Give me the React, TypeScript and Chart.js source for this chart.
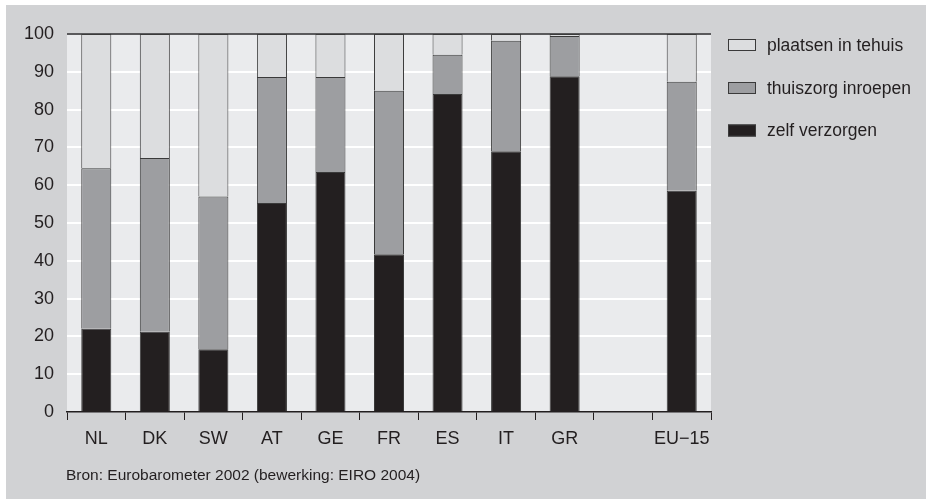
import { useEffect, useRef } from 'react';
import { Chart, registerables } from 'chart.js';

Chart.register(...registerables);

const categories = ['NL', 'DK', 'SW', 'AT', 'GE', 'FR', 'ES', 'IT', 'GR', '', 'EU\u221215'];
const zelfVerzorgen = [22.0, 21.2, 16.6, 55.3, 63.5, 41.7, 84.1, 69.0, 88.8, null, 58.5];
const thuiszorgInroepen = [42.5, 46.0, 40.4, 33.3, 25.1, 43.3, 10.4, 29.2, 10.7, null, 28.9];
const plaatsenInTehuis = [35.5, 32.8, 43.0, 11.4, 11.4, 15.0, 5.5, 1.8, 0.5, null, 12.6];
const yTicks = [0, 10, 20, 30, 40, 50, 60, 70, 80, 90, 100];
const sourceText = 'Bron: Eurobarometer 2002 (bewerking: EIRO 2004)';

const FONT = "'Liberation Sans', Arial, sans-serif";
const TEXT = '#231f20';
const C_BLACK = '#231f20';
const C_GRAY = '#9d9ea1';
const C_LIGHT = '#dcdddf';
const C_BORDER = '#3a3a3a';

const decorPlugin = {
  id: 'decor',
  beforeDraw(chart: any) {
    const { ctx, chartArea, width, height } = chart;
    ctx.save();
    ctx.fillStyle = '#ffffff';
    ctx.fillRect(0, 0, width, height);
    ctx.fillStyle = '#d1d2d4';
    ctx.fillRect(6, 5, width - 6, height - 5);
    ctx.fillStyle = '#eaebed';
    ctx.fillRect(chartArea.left, chartArea.top, chartArea.right - chartArea.left, chartArea.bottom - chartArea.top);
    ctx.restore();
  },
  afterDraw(chart: any) {
    const { ctx } = chart;
    ctx.save();
    const ds = chart.data.datasets.slice().reverse();
    const rowY = [45, 88, 130.5];
    ds.forEach((d: any, i: number) => {
      const y = rowY[i];
      ctx.fillStyle = d.backgroundColor;
      ctx.fillRect(728, y - 6, 28, 12);
      ctx.strokeStyle = C_BORDER;
      ctx.lineWidth = 1;
      ctx.strokeRect(728.5, y - 5.5, 27, 11);
      ctx.fillStyle = TEXT;
      ctx.font = `17.5px ${FONT}`;
      ctx.textAlign = 'left';
      ctx.textBaseline = 'middle';
      ctx.fillText(d.label, 767, y + 1);
    });
    ctx.font = `15.5px ${FONT}`;
    ctx.fillStyle = TEXT;
    ctx.textAlign = 'left';
    ctx.textBaseline = 'middle';
    ctx.fillText(sourceText, 66, 476);
    ctx.restore();
  },
};

export default function App() {
  const ref = useRef<HTMLCanvasElement>(null);
  useEffect(() => {
    document.body.style.margin = '0';
    const chart = new Chart(ref.current as HTMLCanvasElement, {
      type: 'bar',
      data: {
        labels: categories,
        datasets: [
          { label: 'zelf verzorgen', data: zelfVerzorgen, backgroundColor: C_BLACK, borderColor: C_BORDER, borderWidth: 1 },
          { label: 'thuiszorg inroepen', data: thuiszorgInroepen, backgroundColor: C_GRAY, borderColor: C_BORDER, borderWidth: 1 },
          { label: 'plaatsen in tehuis', data: plaatsenInTehuis, backgroundColor: C_LIGHT, borderColor: C_BORDER, borderWidth: 1 },
        ] as any,
      },
      options: {
        responsive: false,
        animation: false,
        devicePixelRatio: 1,
        layout: { padding: { left: 0, top: 34, right: 215, bottom: 0 } },
        datasets: { bar: { categoryPercentage: 1, barPercentage: 0.513 } },
        plugins: { legend: { display: false }, tooltip: { enabled: false } },
        scales: {
          x: {
            stacked: true,
            grid: { drawOnChartArea: false, drawTicks: true, tickLength: 8, color: TEXT, lineWidth: 1, offset: true },
            border: { display: true, color: TEXT, width: 1.5 },
            ticks: { color: TEXT, font: { family: FONT, size: 18 }, padding: 8, maxRotation: 0, autoSkip: false },
            afterFit: (s: any) => { s.height = 87; },
          },
          y: {
            stacked: true,
            min: 0,
            max: 100,
            afterBuildTicks: (s: any) => { s.ticks = yTicks.map((v) => ({ value: v })); },
            grid: {
              drawTicks: false,
              color: (c: any) => (c.tick && c.tick.value === 100 ? '#5a5a5c' : c.tick && c.tick.value === 0 ? 'rgba(0,0,0,0)' : '#ffffff'),
              lineWidth: 2,
            },
            border: { display: false },
            ticks: { color: TEXT, font: { family: FONT, size: 18 }, padding: 13 },
            afterFit: (s: any) => { s.width = 67; },
          },
        },
      },
      plugins: [decorPlugin],
    });
    return () => chart.destroy();
  }, []);
  return (
    <div style={{ width: 926, height: 499 }}>
      <canvas ref={ref} width={926} height={499} style={{ display: 'block', width: 926, height: 499 }} />
    </div>
  );
}
